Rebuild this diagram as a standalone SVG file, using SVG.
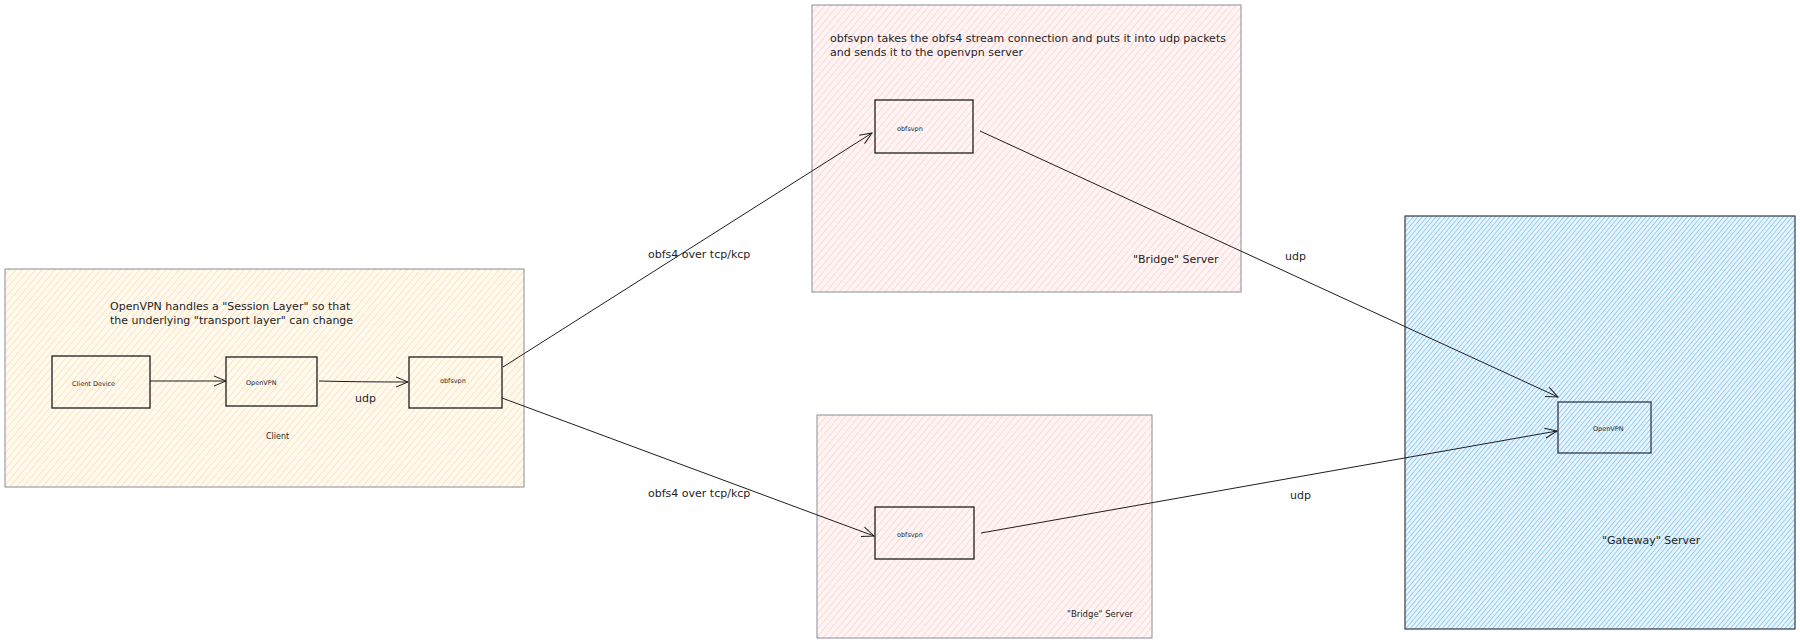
<svg xmlns="http://www.w3.org/2000/svg" width="1800" height="644" viewBox="0 0 1800 644">
<defs>
<pattern id="hy" width="5" height="5" patternUnits="userSpaceOnUse" patternTransform="rotate(40)"><rect width="5" height="5" fill="#fffaf0"/><line x1="0" y1="0" x2="0" y2="5" stroke="#ffd8a8" stroke-width="1.4"/></pattern>
<pattern id="hp" width="5" height="5" patternUnits="userSpaceOnUse" patternTransform="rotate(40)"><rect width="5" height="5" fill="#fff5f5"/><line x1="0" y1="0" x2="0" y2="5" stroke="#ffc9c9" stroke-width="1.4"/></pattern>
<pattern id="hb" width="3.5" height="3.5" patternUnits="userSpaceOnUse" patternTransform="rotate(40)"><rect width="4" height="4" fill="#e7f5ff"/><line x1="0" y1="0" x2="0" y2="4" stroke="#74b9f0" stroke-width="1.3"/></pattern>
<marker id="ar" markerWidth="14" markerHeight="12" refX="13" refY="6" orient="auto" markerUnits="userSpaceOnUse"><path d="M1,1 L13,6 L1,11" fill="none" stroke="#1e1e1e" stroke-width="1"/></marker>
</defs>
<style>
.g{stroke:#868e96;stroke-width:1}
.n{fill:none;stroke:#1e1e1e;stroke-width:1.3}
.t{font-family:"DejaVu Sans",sans-serif;font-size:11px;fill:#1e1e1e}
.s{font-family:"DejaVu Sans",sans-serif;font-size:6.5px;fill:#1e1e1e}
.c{fill:none;stroke:#1e1e1e;stroke-width:1;marker-end:url(#ar)}
</style>
<g id="client"><rect x="5" y="269" width="519" height="218" fill="url(#hy)" class="g"/>
<text class="t" x="110" y="310">OpenVPN handles a "Session Layer" so that</text>
<text class="t" x="110" y="324">the underlying "transport layer" can change</text>
<text class="s" x="266" y="439" style="font-size:8px">Client</text></g>
<g id="bridge1"><rect x="812" y="5" width="429" height="287" fill="url(#hp)" class="g"/>
<text class="t" x="830" y="42">obfsvpn takes the obfs4 stream connection and puts it into udp packets</text>
<text class="t" x="830" y="56">and sends it to the openvpn server</text>
<text class="t" x="1133" y="263">"Bridge" Server</text></g>
<g id="bridge2"><rect x="817" y="415" width="335" height="223" fill="url(#hp)" class="g"/>
<text class="s" x="1067" y="617" style="font-size:8.5px">"Bridge" Server</text></g>
<g id="gateway"><rect x="1405" y="216" width="390" height="413" fill="url(#hb)" stroke="#343a40" stroke-width="1.2"/>
<text class="t" x="1602" y="544">"Gateway" Server</text></g>
<g id="clientdevice"><rect x="52" y="356" width="98" height="52" class="n"/><text class="s" x="72" y="386">Client Device</text></g>
<g id="openvpn1"><rect x="226" y="357" width="91" height="49" class="n"/><text class="s" x="246" y="385">OpenVPN</text></g>
<g id="obfsvpn1"><rect x="409" y="357" width="93" height="51" class="n"/><text class="s" x="440" y="383">obfsvpn</text></g>
<g id="obfsvpn2"><rect x="875" y="100" width="98" height="53" class="n"/><text class="s" x="897" y="131">obfsvpn</text></g>
<g id="obfsvpn3"><rect x="875" y="507" width="99" height="52" class="n"/><text class="s" x="897" y="537">obfsvpn</text></g>
<g id="openvpn2"><rect x="1558" y="402" width="93" height="51" fill="none" stroke="#343a40" stroke-width="1.3"/><text class="s" x="1593" y="431">OpenVPN</text></g>
<g id="connectors">
<path class="c" d="M150,381 L226,381"/>
<path class="c" d="M319,381 Q360,382 408,382"/>
<path class="c" d="M503,367 L872,133"/>
<path class="c" d="M502,398 L874,536"/>
<path class="c" d="M980,131 L1558,397"/>
<path class="c" d="M981,533 L1557,431"/>
<text class="t" x="355" y="402">udp</text>
<text class="t" x="648" y="258">obfs4 over tcp/kcp</text>
<text class="t" x="648" y="497">obfs4 over tcp/kcp</text>
<text class="t" x="1285" y="260">udp</text>
<text class="t" x="1290" y="499">udp</text>
</g>
</svg>
